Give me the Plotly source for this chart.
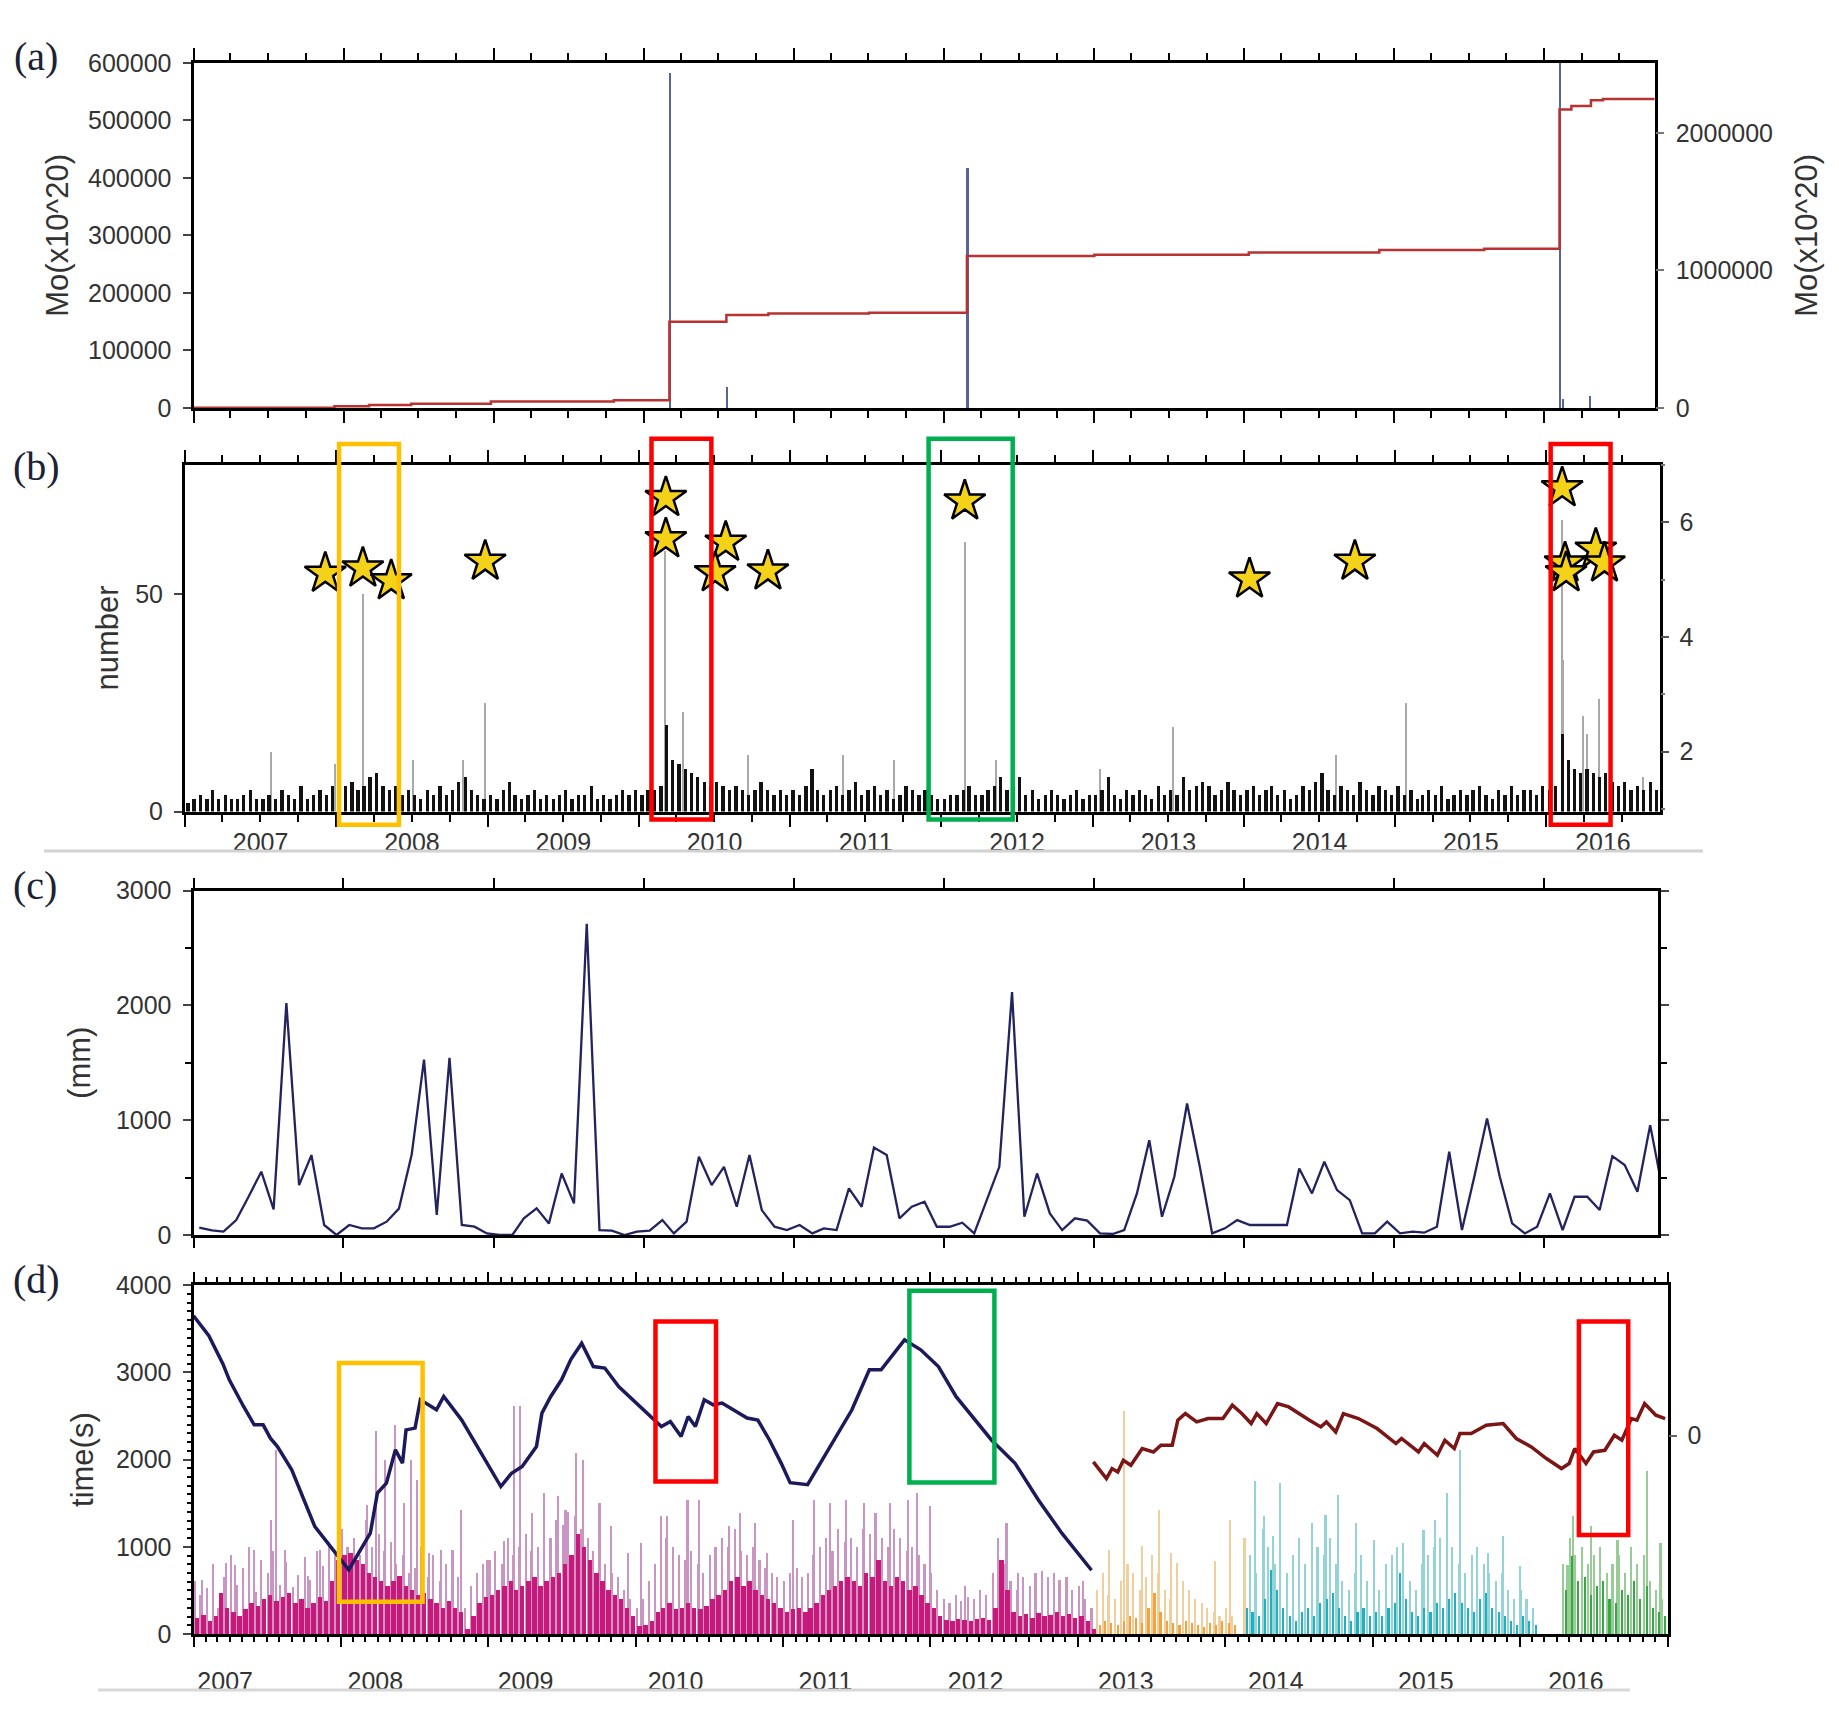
import numpy as np
import pandas as pd
import plotly.graph_objects as go

# ======================= DATA =======================
# ---- (a) seismic moment: single events (left axis) and cumulative (right axis)
a_event_time = [2010.170, 2010.55, 2012.153, 2016.101, 2016.12, 2016.30]
a_event_moment = [582000, 36600, 417000, 900000, 16000, 22000]
a_cum_time = [2007.0, 2007.94, 2008.17, 2008.45, 2008.98, 2009.80, 2010.170, 2010.55,
              2010.83, 2011.50, 2012.153, 2013.00, 2014.03, 2014.90, 2015.60, 2016.101,
              2016.18, 2016.31, 2016.39, 2016.734]
a_cum_moment = [2000, 12000, 22000, 31000, 48000, 56000, 627000, 676000, 688000, 693000,
                1106000, 1115000, 1130000, 1149000, 1158000, 2170000, 2195000, 2238000,
                2247000, 2247000]

# ---- (b) daily earthquake number (half-month maxima of the dense band) + spikes + star magnitudes
b_dense_start = "2007-01-01"
b_dense_2007 = [2, 3, 4, 3, 5, 3, 4, 3, 3, 4, 5, 3, 3, 4, 3, 5, 4, 3, 6, 3, 4, 5, 4, 6]
b_dense_2008 = [5, 6, 7, 5, 6, 8, 9, 6, 5, 6, 4, 5, 4, 3, 5, 4, 6, 4, 5, 7, 8, 5, 4, 3]
b_dense_2009 = [4, 3, 5, 7, 4, 3, 4, 5, 3, 4, 3, 4, 5, 3, 4, 4, 6, 3, 4, 3, 4, 5, 4, 5]
b_dense_2010 = [4, 5, 5, 6, 20, 12, 11, 10, 9, 8, 7, 6, 7, 6, 5, 6, 5, 4, 5, 7, 5, 4, 5, 4]
b_dense_2011 = [5, 4, 6, 10, 5, 4, 5, 6, 4, 5, 7, 4, 5, 6, 4, 5, 3, 4, 6, 5, 4, 5, 4, 3]
b_dense_2012 = [3, 4, 4, 5, 6, 4, 4, 5, 6, 8, 5, 6, 8, 4, 5, 3, 4, 5, 4, 3, 4, 5, 3, 4]
b_dense_2013 = [4, 5, 8, 4, 3, 5, 4, 5, 4, 3, 6, 4, 5, 4, 8, 5, 6, 7, 6, 4, 5, 7, 5, 4]
b_dense_2014 = [5, 6, 4, 5, 6, 4, 5, 3, 4, 6, 5, 7, 9, 5, 4, 6, 5, 4, 7, 5, 4, 6, 5, 4]
b_dense_2015 = [6, 4, 5, 3, 4, 5, 4, 6, 3, 4, 5, 4, 5, 6, 4, 3, 5, 4, 6, 4, 5, 5, 4, 6]
b_dense_2016 = [5, 6, 18, 12, 10, 9, 10, 9, 8, 9, 7, 6, 7, 5, 6, 5, 7, 5]
b_spike_time = [2007.57, 2007.99, 2008.176, 2008.51, 2008.84, 2008.98, 2010.172, 2010.29,
                2010.72, 2011.35, 2011.69, 2012.155, 2012.36, 2013.05, 2013.53, 2014.61,
                2015.07, 2016.104, 2016.11, 2016.24, 2016.27, 2016.35, 2016.64]
b_spike_count = [13.7, 11, 50, 12, 12, 25, 60, 23, 13, 13, 12, 62, 12, 10, 19.5, 13,
                 25, 67, 35, 22, 18, 26, 8]
b_star_time = [2007.928, 2008.176, 2008.363, 2008.983, 2010.178, 2010.178, 2010.574,
               2010.504, 2010.853, 2012.155, 2014.036, 2014.733, 2016.104, 2016.123,
               2016.130, 2016.326, 2016.383]
b_star_mag = [5.11, 5.20, 4.98, 5.32, 6.43, 5.71, 5.65, 5.12, 5.15, 6.37, 5.01, 5.32,
              6.60, 5.29, 5.12, 5.53, 5.29]
year_labels = ["2007", "2008", "2009", "2010", "2011", "2012", "2013", "2014", "2015", "2016"]

# ---- (c) monthly rainfall (mm), Jan 2007 .. Oct 2016 (mid-month)
c_rain = [65, 40, 30, 130, 333, 551, 223, 2020, 435, 696, 87, 0,
          87, 58, 58, 116, 230, 700, 1528, 174, 1542, 87, 72, 14,
          0, 0, 145, 232, 101, 536, 275, 2710, 43, 38, 0, 29,
          38, 130, 14, 116, 681, 435, 594, 246, 696, 217, 72, 43,
          87, 14, 58, 43, 406, 246, 762, 696, 145, 246, 290, 72,
          72, 107, 14, 300, 594, 2116, 159, 536, 188, 43, 145, 125,
          14, 9, 43, 362, 826, 159, 507, 1145, 594, 14, 58, 130,
          87, 87, 87, 87, 580, 362, 638, 391, 304, 14, 14, 116,
          14, 29, 20, 72, 725, 43, 507, 1014, 507, 101, 14, 72,
          362, 43, 333, 333, 217, 687, 609, 377, 957, 400]

# ---- (d) tremor duration time(s): half-month dense band, mid-height lines, tall spikes, curves
d_dense_2007 = [180, 220, 150, 200, 470, 300, 250, 200, 280, 350, 320, 400, 450, 380, 420, 470, 350, 400, 300, 350, 420, 380, 600, 850]
d_dense_2008 = [900, 930, 850, 800, 700, 650, 600, 550, 600, 660, 550, 500, 450, 470, 400, 350, 300, 380, 300, 250, 50, 200, 350, 420]
d_dense_2009 = [450, 500, 550, 600, 500, 550, 600, 650, 550, 600, 650, 700, 800, 900, 1150, 1000, 850, 700, 600, 500, 450, 400, 300, 200]
d_dense_2010 = [90, 100, 150, 250, 300, 350, 280, 300, 350, 300, 280, 320, 400, 450, 500, 600, 650, 550, 600, 500, 450, 400, 350, 300]
d_dense_2011 = [250, 280, 300, 250, 300, 350, 450, 500, 550, 600, 650, 600, 550, 700, 650, 850, 600, 550, 650, 600, 500, 550, 450, 350]
d_dense_2012 = [300, 200, 160, 150, 170, 160, 150, 170, 180, 160, 300, 850, 500, 250, 200, 230, 180, 240, 200, 220, 250, 200, 230, 180]
d_dense_2013 = [200, 150, 50, 100, 150, 120, 100, 150, 200, 180, 120, 300, 470, 250, 150, 120, 100, 150, 120, 100, 80, 120, 100, 150]
d_dense_2014 = [120, 100, 0, 300, 250, 200, 400, 736, 500, 300, 200, 150, 250, 300, 200, 350, 400, 470, 300, 200, 150, 250, 300, 200]
d_dense_2015 = [250, 200, 300, 350, 700, 400, 250, 200, 300, 250, 350, 300, 400, 470, 350, 300, 250, 400, 470, 300, 250, 200, 150, 100]
d_dense_2016 = [200, 150, 100, 0, 0, 0, 0, 500, 890, 600, 650, 450, 550, 600, 400, 350, 500, 450, 600, 400, 550, 300, 250, 200]
d_mid_2007 = [600, 450, 520, 800, 300, 650, 900, 560, 760, 1000, 480, 850, 700, 950, 560, 820, 540, 680, 880, 620, 950, 780, 1050, 900]
d_mid_2008 = [1200, 1000, 1100, 900, 1300, 1000, 1150, 950, 1050, 800, 900, 700, 750, 1000, 650, 900, 600, 800, 500, 650, 300, 550, 700, 800]
d_mid_2009 = [850, 950, 800, 1100, 900, 1000, 1150, 950, 1000, 1200, 1100, 1300, 1250, 1400, 1350, 1200, 1100, 950, 900, 800, 700, 650, 500, 400]
d_mid_2010 = [300, 400, 600, 800, 900, 1100, 1000, 900, 850, 950, 800, 700, 900, 1000, 1100, 1000, 1200, 950, 900, 1000, 850, 750, 700, 650]
d_mid_2011 = [600, 700, 750, 650, 700, 900, 1000, 1100, 950, 1200, 1050, 1100, 1000, 1200, 1150, 1300, 1100, 1000, 1200, 1100, 950, 1000, 900, 800]
d_mid_2012 = [700, 500, 400, 350, 450, 380, 420, 400, 500, 450, 700, 1100, 800, 600, 500, 650, 550, 700, 600, 650, 700, 600, 650, 500]
d_mid_2013 = [550, 400, 300, 500, 700, 450, 400, 600, 800, 700, 500, 650, 900, 700, 500, 400, 450, 600, 500, 400, 350, 300, 250, 200]
d_mid_2014 = [300, 200, 0, 1100, 900, 700, 1200, 1000, 800, 600, 700, 900, 1100, 800, 700, 1000, 900, 1100, 800, 600, 500, 700, 900, 600]
d_mid_2015 = [700, 500, 800, 900, 1000, 700, 600, 500, 800, 900, 1000, 1100, 900, 1000, 800, 700, 900, 1000, 800, 700, 600, 700, 500, 400]
d_mid_2016 = [500, 400, 300, 0, 0, 0, 0, 800, 1100, 900, 1000, 800, 900, 1000, 700, 800, 900, 700, 1000, 800, 900, 600, 500, 400]
d_spike_time = [2007.053, 2007.220, 2007.280, 2007.408, 2007.527, 2007.559, 2007.619, 2007.778,
                2007.858, 2008.177, 2008.237, 2008.297, 2008.364, 2008.428, 2008.476, 2008.516,
                2008.596, 2008.676, 2008.755, 2008.815, 2008.986, 2009.102, 2009.174, 2009.214,
                2009.293, 2009.374, 2009.473, 2009.521, 2009.593, 2009.641, 2009.752, 2009.832,
                2009.943, 2010.031, 2010.171, 2010.210, 2010.350, 2010.429, 2010.629, 2010.709,
                2010.809, 2010.888, 2011.068, 2011.207, 2011.315, 2011.426, 2011.546, 2011.626,
                2011.726, 2011.845, 2011.905, 2011.995, 2012.234, 2012.514, 2012.594, 2012.753,
                2012.873, 2013.032,
                2013.211, 2013.311, 2013.430, 2013.550, 2013.630, 2013.670, 2013.929, 2014.029,
                2014.200, 2014.260, 2014.320, 2014.367, 2014.587, 2014.679, 2014.766, 2014.886,
                2015.006, 2015.205, 2015.344, 2015.424, 2015.504, 2015.595, 2015.783, 2015.883,
                2016.002,
                2016.321, 2016.361, 2016.481, 2016.660, 2016.860, 2016.951]
d_spike_sec = [622, 813, 794, 966, 1309, 2111, 966, 660,
               966, 1481, 2321, 1996, 2397, 1500, 1996, 1767,
               927, 966, 966, 1424, 851, 1061, 2607, 2607,
               1386, 1615, 1576, 1424, 2073, 1996, 1500, 1233,
               927, 1042, 1347, 1347, 1538, 1538, 1233, 1386,
               1271, 927, 1309, 1538, 1500, 1538, 1500, 1386,
               1500, 1538, 1615, 1462, 546, 1271, 698, 718,
               622, 603,
               966, 2550, 1004, 1424, 927, 813, 832, 1309,
               1748, 1347, 1118, 1729, 1271, 1366, 1595, 1271,
               1080, 1042, 1195, 1309, 1615, 2111, 927, 1118,
               775,
               794, 1347, 1233, 1080, 1863, 1042]
d_blue_time = [2007.000, 2007.104, 2007.199, 2007.243, 2007.340, 2007.412, 2007.473, 2007.522,
               2007.570, 2007.667, 2007.824, 2007.946, 2008.054, 2008.200, 2008.248, 2008.309,
               2008.370, 2008.418, 2008.442, 2008.503, 2008.539, 2008.648, 2008.697, 2008.818,
               2008.987, 2009.084, 2009.157, 2009.229, 2009.326, 2009.363, 2009.423, 2009.496,
               2009.560, 2009.633, 2009.712, 2009.790, 2009.884, 2010.005, 2010.174, 2010.235,
               2010.308, 2010.356, 2010.405, 2010.465, 2010.526, 2010.586, 2010.756, 2010.829,
               2010.908, 2010.988, 2011.048, 2011.167, 2011.267, 2011.386, 2011.467, 2011.586,
               2011.666, 2011.825, 2011.935, 2012.055, 2012.175, 2012.414, 2012.574, 2012.733,
               2012.892, 2013.092]
d_blue_sec = [3650, 3420, 3100, 2915, 2609, 2399, 2399, 2246,
              2150, 1882, 1231, 964, 735, 1156, 1615, 1730,
              2112, 1959, 2341, 2361, 2686, 2571, 2724, 2456,
              1959, 1691, 1844, 1921, 2150, 2533, 2724, 2915,
              3150, 3335, 3067, 3050, 2838, 2648, 2379, 2437,
              2265, 2494, 2379, 2686, 2628, 2648, 2476, 2454,
              2225, 1957, 1735, 1712, 1993, 2340, 2568, 3030,
              3030, 3373, 3259, 3067, 2722, 2225, 1957, 1535,
              1153, 731]
d_red_time = [2013.104, 2013.193, 2013.231, 2013.270, 2013.308, 2013.359, 2013.436, 2013.512,
              2013.563, 2013.640, 2013.678, 2013.729, 2013.806, 2013.883, 2013.984, 2014.048,
              2014.112, 2014.176, 2014.214, 2014.278, 2014.355, 2014.431, 2014.572, 2014.649,
              2014.687, 2014.750, 2014.802, 2014.904, 2015.031, 2015.159, 2015.197, 2015.312,
              2015.351, 2015.440, 2015.491, 2015.555, 2015.593, 2015.670, 2015.772, 2015.887,
              2015.976, 2016.078, 2016.180, 2016.282, 2016.334, 2016.372, 2016.448, 2016.499,
              2016.576, 2016.640, 2016.691, 2016.755, 2016.793, 2016.845, 2016.921, 2016.984]
d_red_sec = [-303, -494, -379, -418, -284, -341, -149, -188,
             -111, -111, 176, 252, 156, 195, 195, 348,
             252, 138, 252, 138, 367, 328, 176, 99,
             156, 41, 252, 195, 80, -92, -34, -188,
             -92, -226, -54, -149, 23, 23, 118, 138,
             -34, -131, -264, -379, -321, -149, -321, -188,
             -169, 3, -54, 195, 176, 367, 233, 195]
# colour groups of the (d) bars: start time of each group
d_group_start = [2007.0, 2013.11, 2014.13, 2016.20]

# highlight boxes (time span, value span) per panel
b_boxes_t = [(2008.019, 2008.414), (2010.083, 2010.479), (2011.916, 2012.471), (2016.028, 2016.423)]
b_boxes_v = [(-3.0, 84.4), (-1.8, 85.6), (-1.8, 85.6), (-3.0, 84.4)]
d_boxes_t = [(2007.988, 2008.554), (2010.134, 2010.545), (2011.858, 2012.434), (2016.400, 2016.734)]
d_boxes_v = [(371, 3107), (1748, 3584), (1737, 3937), (1136, 3584)]
box_colors = ["#ffc000", "#ff0000", "#00b050", "#ff0000"]

# ======================= helpers =======================
def dy(v):
    y = int(np.floor(v))
    s, e = pd.Timestamp(y, 1, 1), pd.Timestamp(y + 1, 1, 1)
    return s + (e - s) * (v - y)

def dys(vals):
    return [dy(v) for v in vals]

def dec_year(ts):
    s = pd.Timestamp(ts.year, 1, 1); e = pd.Timestamp(ts.year + 1, 1, 1)
    return ts.year + (ts - s) / (e - s)

def half_months(start, n, d1=7, d2=22):
    months = pd.date_range(start, periods=(n + 1) // 2, freq="MS")
    out = []
    for m in months:
        out += [m + pd.Timedelta(days=d1), m + pd.Timedelta(days=d2)]
    return out[:n]

DAY = 86400000.0

OFF = 8
FIG_W, FIG_H = 1823, 1696
PL, PR, PT, PB = 180, 1680, 50, 1700
def fx(p): return (p - PL) / (PR - PL)
def fy(p): return 1 - (p - PT) / (PB - PT)

TXT = "#333333"
FONT = "Liberation Sans"
TICKF = dict(family=FONT, size=25, color=TXT)
TITF = dict(family=FONT, size=31, color=TXT)

A_RANGE = [2007.0, 2016.734]
B_RANGE = [2007.0, 2016.746]
C_RANGE = [2007.0, 2016.757]
D_RANGE = [2007.0, 2017.0]
D_LABEL_RANGE = [2007.289, 2017.109]
B_YRANGE = [0, 79.7]

fig = go.Figure()

# ---------------- (a) ----------------
fig.add_trace(go.Bar(x=dys(a_event_time), y=a_event_moment, width=6 * DAY,
                     marker=dict(color="#56649a", line=dict(width=0)),
                     xaxis="x", yaxis="y", showlegend=False))
fig.add_trace(go.Scatter(x=dys(a_cum_time), y=a_cum_moment, mode="lines",
                         line=dict(color="#b83232", width=2.5, shape="hv"),
                         xaxis="x", yaxis="y2", showlegend=False))

# ---------------- (b) ----------------
b_dense = (b_dense_2007 + b_dense_2008 + b_dense_2009 + b_dense_2010 + b_dense_2011 +
           b_dense_2012 + b_dense_2013 + b_dense_2014 + b_dense_2015 + b_dense_2016)
fig.add_trace(go.Bar(x=dys(b_spike_time), y=b_spike_count, width=3 * DAY,
                     marker=dict(color="#a9a9a9", line=dict(width=0)),
                     xaxis="x2", yaxis="y3", showlegend=False))
fig.add_trace(go.Bar(x=half_months(b_dense_start, len(b_dense)), y=b_dense, width=8 * DAY,
                     marker=dict(color="#111111", line=dict(width=0)),
                     xaxis="x2", yaxis="y3", showlegend=False))
fig.add_trace(go.Scatter(x=dys(b_star_time), y=b_star_mag, mode="markers",
                         marker=dict(symbol="star", size=31, color="#f5d21a",
                                     line=dict(color="#000000", width=2.5)),
                         cliponaxis=False, xaxis="x2", yaxis="y4", showlegend=False))
# carrier (no visible mark) for the year-label axis under panel (b)
fig.add_trace(go.Scatter(x=[dy(B_RANGE[0])], y=[None], mode="lines",
                         xaxis="x6", yaxis="y3", showlegend=False, hoverinfo="skip"))

# ---------------- (c) ----------------
c_x = [m + pd.Timedelta(days=14) for m in pd.date_range("2007-01-01", periods=len(c_rain), freq="MS")]
fig.add_trace(go.Scatter(x=c_x, y=c_rain, mode="lines",
                         line=dict(color="#23235f", width=2.3),
                         xaxis="x3", yaxis="y5", showlegend=False))

# ---------------- (d) ----------------
d_dense = (d_dense_2007 + d_dense_2008 + d_dense_2009 + d_dense_2010 + d_dense_2011 +
           d_dense_2012 + d_dense_2013 + d_dense_2014 + d_dense_2015 + d_dense_2016)
d_mid = (d_mid_2007 + d_mid_2008 + d_mid_2009 + d_mid_2010 + d_mid_2011 +
         d_mid_2012 + d_mid_2013 + d_mid_2014 + d_mid_2015 + d_mid_2016)
dense_cols = ["#c8187c", "#f4a23f", "#1fb1c1", "#38a846"]
light_cols = ["#c995c2", "#f0cf9c", "#94d4d6", "#97cc97"]
dense_w = [11, 4, 4, 5]

def group_of(t):
    g = 0
    for i, s in enumerate(d_group_start):
        if t >= s:
            g = i
    return g

fig.add_trace(go.Bar(x=dys(d_spike_time), y=d_spike_sec, width=4 * DAY,
                     marker=dict(color=[light_cols[group_of(t)] for t in d_spike_time], line=dict(width=0)),
                     xaxis="x4", yaxis="y6", showlegend=False))
d_mid_x = half_months("2007-01-01", len(d_mid), 2, 16)
fig.add_trace(go.Bar(x=d_mid_x, y=d_mid, width=4 * DAY,
                     marker=dict(color=[light_cols[group_of(dec_year(t))] for t in d_mid_x], line=dict(width=0)),
                     xaxis="x4", yaxis="y6", showlegend=False))
d_dense_x = half_months("2007-01-01", len(d_dense), 8, 23)
d_g = [group_of(dec_year(t)) for t in d_dense_x]
fig.add_trace(go.Bar(x=d_dense_x, y=d_dense, width=[dense_w[g] * DAY for g in d_g],
                     marker=dict(color=[dense_cols[g] for g in d_g], line=dict(width=0)),
                     xaxis="x4", yaxis="y6", showlegend=False))
fig.add_trace(go.Scatter(x=dys(d_blue_time), y=d_blue_sec, mode="lines",
                         line=dict(color="#1c1a5c", width=3.5),
                         xaxis="x4", yaxis="y6", showlegend=False))
fig.add_trace(go.Scatter(x=dys(d_red_time), y=d_red_sec, mode="lines",
                         line=dict(color="#7a1616", width=3.5),
                         xaxis="x4", yaxis="y7", showlegend=False))
# carrier (no visible mark) for the year-label axis under panel (d)
fig.add_trace(go.Scatter(x=[dy(D_LABEL_RANGE[0])], y=[None], mode="lines",
                         xaxis="x5", yaxis="y6", showlegend=False, hoverinfo="skip"))

# ======================= axes =======================
def xaxis(dom, rng, anchor, tl=12, minor=dict(dtick="M3", ticklen=7)):
    return dict(domain=dom, range=[dy(rng[0]), dy(rng[1])], anchor=anchor, showgrid=False,
                zeroline=False, showline=True, linecolor="black", linewidth=3, mirror="ticks",
                ticks="outside", ticklen=tl, tickwidth=2, tickcolor="black", automargin=False,
                dtick="M12", tick0="2007-01-01", showticklabels=False,
                minor=dict(ticks="outside", tickwidth=1.5, tickcolor="black", showgrid=False,
                           tick0="2007-01-01", **minor))

def yleft(dom, rng, anchor, title, standoff, **kw):
    d = dict(domain=dom, range=rng, anchor=anchor, showline=True, linecolor="black",
             linewidth=3, ticks="outside", ticklen=8, tickwidth=2, showgrid=False,
             zeroline=False, tickfont=TICKF, ticklabelstandoff=6, automargin=False,
             title=dict(text=title, font=TITF, standoff=standoff))
    d.setdefault("mirror", True)
    d.update(kw)
    return d

def yright(over, anchor, rng, tickvals, **kw):
    d = dict(overlaying=over, side="right", anchor=anchor, range=rng, tickvals=tickvals,
             ticks="outside", ticklen=8, tickwidth=2, showgrid=False, zeroline=False,
             showline=False, tickfont=TICKF, ticklabelstandoff=6, automargin=False)
    d.update(kw)
    return d

A_X = [fx(193.5), fx(1654.7)]; A_Y = [fy(408), fy(62.8)]
B_X = [fx(185), fx(1659.5)];  B_Y = [fy(811.6), fy(464.5)]
C_X = [fx(193.5), fx(1658)];  C_Y = [fy(1235), fy(890.5)]
D_X = [fx(193.5), fx(1667.5)]; D_Y = [fy(1634), fy(1285.2)]

# (b) labels are centred in each year interval (the last, partial one in its visible part)
b_label_pos = [dy(2007.5 + i) for i in range(9)] + [dy((2016.0 + B_RANGE[1]) / 2)]

layout = dict(
    width=FIG_W, height=FIG_H, autosize=False,
    margin=dict(l=PL - OFF, r=OFF + FIG_W - PR, t=PT - OFF, b=OFF + FIG_H - PB, pad=0),
    paper_bgcolor="white", plot_bgcolor="white", barmode="overlay", bargap=0,
    font=dict(family=FONT, size=25, color=TXT),
    # (a)
    xaxis=xaxis(A_X, A_RANGE, "y"),
    yaxis=yleft(A_Y, [0, 600000], "x", "Mo(x10^20)", 11, dtick=100000, tickformat="d"),
    yaxis2=yright("y", "x", [0, 2510000], [0, 1000000, 2000000], tickformat="d",
                  tickcolor="#777", ticklabelstandoff=7,
                  title=dict(text="Mo(x10^20)", font=TITF, standoff=23)),
    # (b)
    xaxis2=xaxis(B_X, B_RANGE, "y3"),
    xaxis6=dict(overlaying="x2", anchor="y3", side="bottom",
                range=[dy(B_RANGE[0]), dy(B_RANGE[1])], tickmode="array",
                tickvals=b_label_pos, ticktext=year_labels, ticks="outside", ticklen=8,
                tickcolor="rgba(0,0,0,0)", showline=False, showgrid=False, zeroline=False,
                tickfont=TICKF, automargin=False),
    yaxis3=yleft(B_Y, B_YRANGE, "x2", "number", 8, tickvals=[0, 50]),
    yaxis4=yright("y3", "x2", [0.955, 7.01], [2, 4, 6], tickcolor="#555",
                  minor=dict(dtick=1, tick0=1, ticks="outside", ticklen=4, tickcolor="#777")),
    # (c)
    xaxis3=xaxis(C_X, C_RANGE, "y5", tl=10, minor=dict(dtick="M12", ticklen=0)),
    yaxis5=yleft(C_Y, [0, 3000], "x3", "(mm)", 17, dtick=1000, mirror="ticks",
                 minor=dict(dtick=500, ticks="outside", ticklen=6, tickcolor="black")),
    # (d)
    xaxis4=xaxis(D_X, D_RANGE, "y6", tl=10, minor=dict(dtick="M1", ticklen=5)),
    xaxis5=dict(overlaying="x4", anchor="y6", side="bottom",
                range=[dy(D_LABEL_RANGE[0]), dy(D_LABEL_RANGE[1])], dtick="M12", tick0="2007-01-01",
                ticklabelmode="period", tickformat="%Y", ticks="outside", ticklen=25,
                tickcolor="rgba(0,0,0,0)", showline=False, showgrid=False, zeroline=False,
                tickfont=TICKF, automargin=False),
    yaxis6=yleft(D_Y, [0, 4000], "x4", "time(s)", 14, dtick=1000,
                 minor=dict(dtick=100, ticks="outside", ticklen=4, tickcolor="black")),
    yaxis7=yright("y6", "x4", [-2276, 1724], [0], tickcolor="#666"),
)
fig.update_layout(**layout)

# highlight boxes (panel b boxes reach beyond the frame, so y is given in axis-domain units)
shapes = []
for (t0, t1), (v0, v1), c in zip(b_boxes_t, b_boxes_v, box_colors):
    span = B_YRANGE[1] - B_YRANGE[0]
    shapes.append(dict(type="rect", xref="x2", yref="y3 domain", x0=dy(t0), x1=dy(t1),
                       y0=(v0 - B_YRANGE[0]) / span, y1=(v1 - B_YRANGE[0]) / span,
                       line=dict(color=c, width=4.5), fillcolor="rgba(0,0,0,0)", layer="above"))
for (t0, t1), (v0, v1), c in zip(d_boxes_t, d_boxes_v, box_colors):
    shapes.append(dict(type="rect", xref="x4", yref="y6", x0=dy(t0), x1=dy(t1), y0=v0, y1=v1,
                       line=dict(color=c, width=4.5), fillcolor="rgba(0,0,0,0)", layer="above"))
# light grey separators of the composite figure
shapes.append(dict(type="line", xref="paper", yref="paper", x0=fx(44), x1=fx(1703),
                   y0=fy(851), y1=fy(851), line=dict(color="#d2d2d2", width=3)))
shapes.append(dict(type="line", xref="paper", yref="paper", x0=fx(98), x1=fx(1630),
                   y0=fy(1690), y1=fy(1690), line=dict(color="#d8d8d8", width=3)))
fig.update_layout(shapes=shapes)

# panel letters
for lab, (px, py) in zip(["(a)", "(b)", "(c)", "(d)"], [(36, 56), (36, 467), (35, 885), (36, 1279)]):
    fig.add_annotation(text=lab, x=fx(px), y=fy(py), xref="paper", yref="paper",
                       showarrow=False, xanchor="center", yanchor="middle",
                       font=dict(family="Liberation Serif", size=40, color="#1b2236"))

fig.write_html("out.html")
